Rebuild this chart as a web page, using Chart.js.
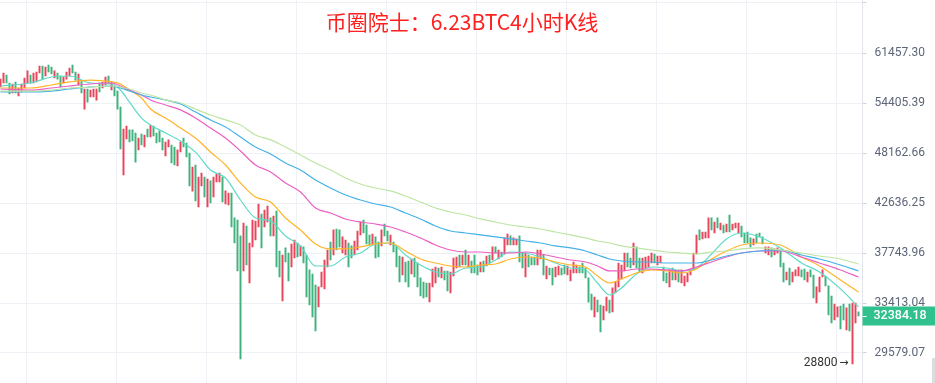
<!DOCTYPE html>
<html><head><meta charset="utf-8">
<script src="https://cdn.jsdelivr.net/npm/chart.js@4.4.0/dist/chart.umd.min.js"></script>
<style>html,body{margin:0;padding:0;background:#fff;}#wrap{position:relative;width:935px;height:383px;}</style>
</head><body><div id="wrap"><canvas id="c" width="935" height="383"></canvas></div>
<script>
const chartTitle = '币圈院士：6.23BTC4小时K线';
const tickValues = [69423.40, 61457.30, 54405.39, 48162.66, 42636.25, 37743.96, 33413.04, 29579.07];
const tickLabels = ['', '61457.30', '54405.39', '48162.66', '42636.25', '37743.96', '33413.04', '29579.07'];
const lastPrice = 32384.18;
const lowMark = 28800;
const lowMarkIndex = 284;
const timeGrid = [8.83, 38.83, 68.83, 98.83, 128.83, 158.83, 188.83, 218.83, 248.83, 278.83];

const highs = [57676,58534,58248,57125,56986,57268,56430,56986,57819,58826,
58248,58534,58680,59540,59540,59394,59686,59394,58826,58534,
58105,57962,58680,59248,59686,58680,58391,57533,56291,56291,
56152,56291,56291,57125,57268,57962,58105,57268,56569,56013,
53873,51062,51440,50948,50948,50570,49955,50447,50324,51062,
51566,51440,50570,50822,49955,49476,49722,49113,48873,48523,
49476,49955,49353,48163,46547,46775,45424,45872,45424,45200,
44992,45424,45760,45872,45424,43908,43690,43690,41110,40908,
39346,40608,40314,38677,40908,40808,42533,41510,41919,42327,
41110,41310,41816,37930,37562,38212,37744,38584,38962,38677,
38398,38305,37562,36216,35862,34915,34747,36038,37107,38023,
38772,39925,40020,39925,39251,38962,38677,38398,38867,39827,
40708,40908,40412,39441,39536,39251,38772,39925,40510,39827,
39441,38772,38398,37471,37380,36926,37016,37198,37289,36835,
35518,35170,35083,35083,36301,36479,36390,36479,36127,36127,
36038,37289,37380,37562,37562,38023,37562,37016,37562,36657,
36926,37016,37471,37562,38305,38305,38023,37837,39156,39536,
39346,39156,39061,39346,37744,37744,37562,37380,37380,38023,
38023,37562,36568,36390,36390,36479,36568,36390,36657,36568,
36216,36926,36657,36479,36835,36390,35518,34156,33907,33658,
33253,33173,33907,33658,34663,35170,36835,36657,37744,37744,
37289,38677,38305,37289,37289,37380,37471,37744,37653,37471,
37471,36479,35949,36216,36390,36216,36216,36216,35688,35949,
36216,37744,39441,39925,39729,39729,41110,41110,40708,41110,
40608,40412,40510,41410,40510,40608,40608,40314,39631,39729,
39156,39061,39536,39631,39251,38305,38305,38212,38120,38212,
38023,36835,36038,36390,36038,36216,36479,36216,36301,36038,
36216,35775,34747,35601,36216,35688,34831,33990,33333,33093,
33173,33333,33013,33333,33413,33413,32692];

const lows = [56569,57125,57125,55614,55750,55750,55342,55889,56430,57125,
57125,57125,57268,58534,57676,58105,58680,58391,57819,57676,
56569,57125,57676,58105,58534,57533,56847,55750,53607,54526,
55206,55206,54798,55889,56430,56847,57125,56152,55342,53607,
48633,45648,49832,49476,49599,47110,48513,49113,48873,50078,
50078,50201,49353,49476,48523,47812,48873,47003,46775,46661,
48283,48873,47695,44441,43896,42842,42224,44441,43266,42224,
42636,43266,44880,44880,42742,42533,42430,40216,38677,36123,
29153,36123,36657,35083,38305,38962,40216,38212,40216,40708,
39346,39346,36479,35601,33575,36926,35257,36479,37289,37380,
37471,36835,33907,33253,32297,31208,33093,34747,34579,36479,
37107,37562,38023,38305,37744,37562,36479,37289,37562,38023,
39441,39631,38584,38491,38584,37289,37380,38398,39346,38867,
38491,37837,36479,35170,35775,35170,34747,35862,35601,34747,
33990,33824,33907,33492,34747,35083,35601,35518,35344,34407,
34239,35688,36390,36479,36657,36657,36479,35949,35949,35775,
36038,36038,36568,36835,37107,37744,37198,37380,37653,38491,
38491,38491,38491,36926,36390,35601,36479,36657,36657,36657,
37198,35775,35431,35775,34915,35601,35775,35775,35862,35775,
35257,35949,35949,35949,35949,35518,33490,32853,32297,32692,
31135,32058,32773,32609,32692,34239,34747,35431,36127,36479,
36390,36657,36390,36038,35949,36390,36479,36835,36835,36657,
36835,35257,35083,34747,35344,35344,35170,35083,34831,35170,
35775,36216,37653,38962,39061,39156,39156,39925,39631,40118,
39925,39631,39729,39729,39925,40118,39631,39251,38677,38677,
38305,38491,38677,39251,38584,37744,37562,37380,37562,37744,
36479,35170,35344,34915,35170,35688,35688,35601,35344,35170,
35601,33824,33413,34323,35601,34831,32453,31824,32058,32297,
31362,32058,31289,31212,28800,31824,32384];

const candleDirs = ('dduududddd' + 'uddduduudu' + 'uddduududu' + 'dddudduduu' + 'udduuududu' +
  'duuuudduud' + 'duuududdud' + 'udddudduuu' + 'ududdddudd' + 'uduuduuddu' +
  'duuuuudddd' + 'uduudduudd' + 'duuuduuduu' + 'duuuduuduu' + 'uuuddduduu' +
  'dddududuuu' + 'dududududd' + 'udduuduuud' + 'duduudduud' + 'ddduuuuudu' +
  'uddudddddu' + 'uduuddddud' + 'duudududdd' + 'dddudddudu' + 'dududdduuu' +
  'uduuuddudd' + 'uududdduud' + 'uuddduuudd' + 'uududdu').split('');

const maIndex = [0,10,17,23,30,37,40,43,47,50,55,60,65,70,75,80,85,90,95,100,105,110,115,120,125,130,135,140,145,150,155,160,165,170,175,180,185,190,195,199,203,207,212,217,222,227,232,237,242,247,253,260,267,273,280,286];
const maTurquoise = [56708,57125,57962,58105,57125,56986,56152,54526,52446,51566,50570,49586,48273,46205,45312,42948,41110,40808,39346,38398,36568,36568,37380,37744,38584,38677,37562,36657,36038,35862,36390,36479,37107,37837,37744,37380,36835,36390,36216,35083,34073,34663,35862,36479,36390,36127,36390,37653,39061,39631,39251,38212,36835,36038,34579,33093];
const maOrange = [56430,56430,56847,57268,57533,57268,56986,56152,55070,53607,52446,51188,49955,48283,46775,44768,43266,42742,41110,39925,38584,38120,38120,38305,38584,38677,37930,37198,36835,36568,36479,36657,36746,37198,37380,37289,36926,36657,36479,35688,35083,35431,35949,36216,36127,35949,36301,37198,37930,38491,38677,38491,37380,36568,35344,34323];
const maPink = [56291,56152,56430,56708,56986,57125,56708,56152,55478,54814,54139,53495,52446,51188,49955,48403,46775,45986,44768,43799,42121,41610,41010,40708,40510,40216,39726,39156,38491,38023,37837,37837,37744,37744,37837,37653,37380,37107,36926,36568,36127,36127,36301,36301,36216,36127,36479,36926,37380,37744,37930,37930,37380,36835,36216,35601];
const maBlue = [55889,55889,56013,56291,56569,56708,56430,56013,55478,55206,54814,54272,53229,52208,51314,50078,48873,48046,47003,46205,45088,44223,43478,42948,42533,42224,41610,41010,40314,39827,39631,39441,39251,39061,38867,38677,38398,38212,37930,37562,37198,37016,36926,36926,36835,36835,36835,37107,37471,37744,37930,38023,37562,37198,36657,36127];
const maGreen = [56013,56013,56152,56430,56569,56708,56569,56291,55750,55478,54814,54405,53607,52836,52208,51566,50324,49722,48873,47929,47003,46205,45312,44659,44223,43908,43372,42742,42121,41713,41410,41010,40708,40412,40216,40020,39726,39441,39156,38867,38677,38398,38212,38023,37837,37744,37653,37837,37930,38120,38212,38023,37744,37471,37198,36746];

const UP = '#3fb27d', DOWN = '#e9445a';
const ratio = tickValues[1] / tickValues[2];
const yMax = tickValues[1] * Math.pow(ratio, 53 / 50);
const yMin = tickValues[7] / Math.pow(ratio, 30 / 50);
const xMin = -0.5 / 3, xMax = -0.5 / 3 + 862.5 / 3;

const candles = highs.map((h, i) => ({x: i, y: [lows[i], h]}));
const candleColors = candleDirs.map(d => d === 'u' ? UP : DOWN);
function maLine(vals, color) {
  return {type: 'line', data: maIndex.map((x, i) => ({x, y: vals[i]})), borderColor: color,
    borderWidth: 1.2, pointRadius: 0, cubicInterpolationMode: 'monotone', fill: false, order: 1};
}

const overlay = {
  id: 'overlay',
  afterDraw(chart) {
    const ctx = chart.ctx, ys = chart.scales.y, xs = chart.scales.x, area = chart.chartArea;
    ctx.save();
    ctx.font = "21px 'Noto Sans CJK SC'";
    ctx.fillStyle = '#ff2020';
    ctx.textAlign = 'center'; ctx.textBaseline = 'middle';
    ctx.fillText(chartTitle, 462, 22);
    const py = ys.getPixelForValue(lastPrice);
    ctx.fillStyle = '#31c18f';
    ctx.fillRect(area.right, Math.round(py) - 9.5, chart.width - area.right, 19);
    ctx.strokeStyle = '#ffffff'; ctx.lineWidth = 1;
    ctx.beginPath(); ctx.moveTo(area.right, Math.round(py) + 0.5); ctx.lineTo(area.right + 4, Math.round(py) + 0.5); ctx.stroke();
    ctx.fillStyle = '#ffffff'; ctx.textAlign = 'left';
    ctx.font = "500 12.5px Roboto";
    ctx.fillText(lastPrice.toFixed(2), area.right + 11, py + 0.5);
    ctx.fillStyle = '#333333'; ctx.textAlign = 'right';
    ctx.font = "12px Roboto";
    const ax = xs.getPixelForValue(lowMarkIndex);
    ctx.fillText(String(lowMark), ax - 15, ys.getPixelForValue(lowMark) - 1);
    ctx.font = "11px 'DejaVu Sans'";
    ctx.fillText('→', ax - 4, ys.getPixelForValue(lowMark) - 1);
    ctx.fillStyle = '#dcdde0';
    ctx.fillRect(932, 358, 3, 25);
    ctx.restore();
  }
};

new Chart(document.getElementById('c'), {
  type: 'bar',
  data: {
    datasets: [
      maLine(maGreen, '#bde5a2'),
      maLine(maBlue, '#44b1ea'),
      maLine(maPink, '#ec5fc4'),
      maLine(maOrange, '#ffb428'),
      maLine(maTurquoise, '#5fdac6'),
      {type: 'bar', data: candles, backgroundColor: candleColors, borderWidth: 0, barThickness: 1.3, order: 10}
    ]
  },
  options: {
    responsive: false, animation: false, devicePixelRatio: 1,
    layout: {padding: 0},
    plugins: {legend: {display: false}, tooltip: {enabled: false}, title: {display: false}},
    scales: {
      x: {
        type: 'linear', min: xMin, max: xMax, offset: false, bounds: 'data',
        ticks: {display: false}, border: {display: false},
        grid: {color: '#eef1f5', drawTicks: false, offset: false},
        afterDataLimits: s => { s.min = xMin; s.max = xMax; },
        afterBuildTicks: s => { s.ticks = timeGrid.map(v => ({value: v})); s.min = xMin; s.max = xMax; },
        afterFit: s => { s.height = 0; s.paddingLeft = 0; s.paddingRight = 0; }
      },
      y: {
        type: 'logarithmic', position: 'right', min: yMin, max: yMax,
        border: {display: true, color: '#e3e7ed'},
        grid: {color: '#eef1f5', tickColor: '#cfd4db', tickLength: 4},
        ticks: {padding: 8, color: '#5c6577', font: {family: 'Roboto', size: 12},
          callback: (v, i) => tickLabels[i]},
        afterBuildTicks: s => { s.ticks = tickValues.map(v => ({value: v})); },
        afterFit: s => { s.width = 72.5; s.paddingTop = 0; s.paddingBottom = 0; }
      }
    }
  },
  plugins: [overlay]
});
</script></body></html>
